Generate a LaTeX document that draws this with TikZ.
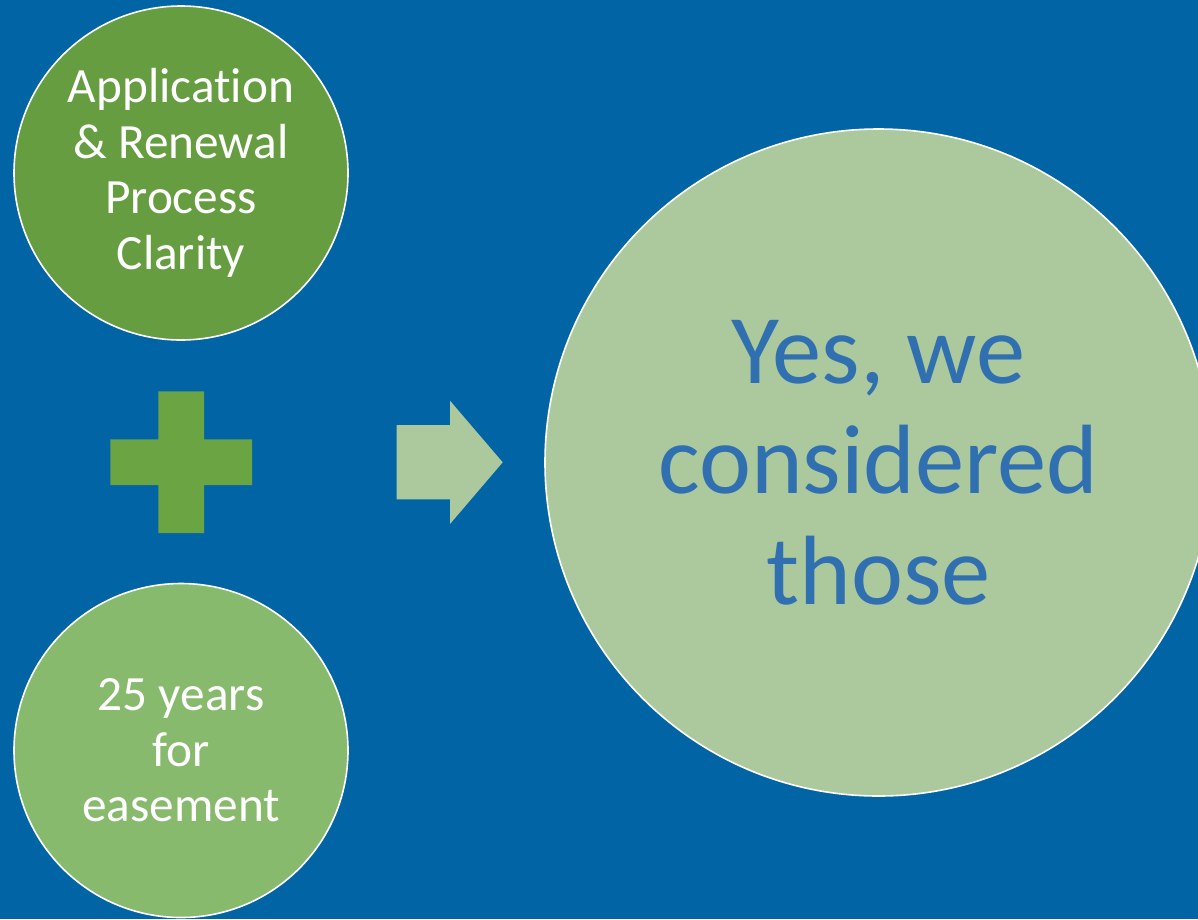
\documentclass[tikz,border=0pt]{standalone}
\usepackage{fontspec}
\setmainfont[Ligatures={NoCommon}]{Carlito}
\definecolor{bg}{RGB}{0,100,165}
\definecolor{gdark}{RGB}{101,157,64}
\definecolor{gplus}{RGB}{106,164,67}
\definecolor{gmid}{RGB}{136,186,110}
\definecolor{glight}{RGB}{172,201,158}
\definecolor{tblue}{RGB}{48,112,176}
\begin{document}
\begin{tikzpicture}[x=1pt,y=-1pt,
  circ/.style={circle, draw=white, line width=1.6pt, inner sep=0pt},
  smalltxt/.style={text=white, align=center, font=\fontsize{49.3}{55.5}\selectfont},
  bigtxt/.style={text=tblue, align=center, font=\fontsize{98.5}{110.5}\selectfont}]
\useasboundingbox (0,0) rectangle (1198,919);
\fill[bg] (0,0) rectangle (1198,919);
\clip (0,0) rectangle (1198,919);
\node[circ, fill=gdark, minimum size=334pt, smalltxt] (c1) at (181,173)
  {Application\\\& Renewal\\Process\\Clarity};
\node[circ, fill=gmid, minimum size=334pt, smalltxt] (c2) at (181,750.5)
  {25 years\\for\\easement};
\node[circ, fill=glight, minimum size=667pt, bigtxt] (c3) at (878.5,462.5)
  {Yes, we\\considered\\those};
% plus sign
\fill[gplus] (158.3,391.3) -- (204,391.3) -- (204,439.3) -- (252,439.3) -- (252,485)
  -- (204,485) -- (204,533) -- (158.3,533) -- (158.3,485) -- (110.3,485)
  -- (110.3,439.3) -- (158.3,439.3) -- cycle;
% arrow
\fill[glight] (396.7,425) -- (450,425) -- (450,400.7) -- (502.7,462.3)
  -- (450,524) -- (450,499.3) -- (396.7,499.3) -- cycle;
\end{tikzpicture}
\end{document}
